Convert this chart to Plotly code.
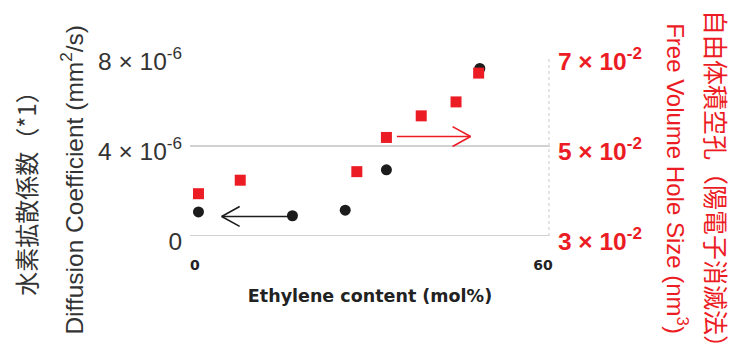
import plotly.graph_objects as go

# ---- data ----
eth_diff = [0.6, 16.8, 25.9, 33.0, 49.1]
diff_coef = [1.07e-6, 0.90e-6, 1.15e-6, 2.94e-6, 7.45e-6]
eth_hole = [0.6, 7.8, 27.9, 33.0, 39.0, 45.0, 48.9]
hole_size = [0.0394, 0.0424, 0.0443, 0.0519, 0.0567, 0.0598, 0.0662]

x_tickvals = [0, 60]
x_ticktext = ["0", "60"]
left_tickvals = [0, 4e-6, 8e-6]
left_ticktext = ["0", "4 × 10<sup>-6</sup>", "8 × 10<sup>-6</sup>"]
right_tickvals = [0.03, 0.05, 0.07]
right_ticktext = ["3 × 10<sup>-2</sup>", "5 × 10<sup>-2</sup>", "7 × 10<sup>-2</sup>"]
grid_vals = [0, 4e-6]

# arrows (annotation guides): [x_start, x_tip], y level
black_arrow_x = [16.2, 4.6]
black_arrow_y = 0.87e-6
red_arrow_x = [34.8, 47.5]
red_arrow_y = 0.0521

RED = "#ec1c24"
BLACK = "#1c1c1c"
FONT = "Liberation Sans, Arial, Noto Sans CJK JP, sans-serif"
CJK = "Noto Sans CJK JP, Liberation Sans, sans-serif"

fig = go.Figure()
fig.add_trace(go.Scatter(x=eth_hole, y=hole_size, mode="markers", yaxis="y2",
                         marker=dict(symbol="square", size=11, color=RED),
                         hoverinfo="skip"))
fig.add_trace(go.Scatter(x=eth_diff, y=diff_coef, mode="markers", yaxis="y",
                         marker=dict(symbol="circle", size=11, color=BLACK),
                         hoverinfo="skip"))

shapes = []
for g in grid_vals:
    shapes.append(dict(type="line", xref="paper", yref="y", x0=0, x1=1, y0=g, y1=g,
                       line=dict(color="#c2c2c2", width=1.5), layer="below"))
shapes.append(dict(type="line", xref="paper", yref="paper", x0=0.997, x1=0.997, y0=0, y1=1,
                   line=dict(color="#dcdcdc", width=1.5, dash="dot"), layer="below"))

# black arrow (pointing left)
hx, hy = 3.1, 0.44e-6
bx0, bx1 = black_arrow_x
shapes.append(dict(type="line", xref="x", yref="y", x0=bx0, x1=bx1, y0=black_arrow_y, y1=black_arrow_y,
                   line=dict(color=BLACK, width=1.6)))
for s in (1, -1):
    shapes.append(dict(type="line", xref="x", yref="y", x0=bx1, x1=bx1 + hx,
                       y0=black_arrow_y, y1=black_arrow_y + s * hy,
                       line=dict(color=BLACK, width=1.6)))
# red arrow (pointing right)
hy2 = 0.0022
rx0, rx1 = red_arrow_x
shapes.append(dict(type="line", xref="x", yref="y2", x0=rx0, x1=rx1, y0=red_arrow_y, y1=red_arrow_y,
                   line=dict(color=RED, width=1.6)))
for s in (1, -1):
    shapes.append(dict(type="line", xref="x", yref="y2", x0=rx1, x1=rx1 - hx,
                       y0=red_arrow_y, y1=red_arrow_y + s * hy2,
                       line=dict(color=RED, width=1.6)))

annotations = [
    dict(text="水素拡散係数（*1）", textangle=-90, xref="paper", yref="paper",
         x=-0.458, y=0.269, showarrow=False, xanchor="center", yanchor="middle",
         font=dict(family=CJK, size=24, color="#333333")),
    dict(text="Diffusion Coefficient (mm<sup>2</sup>/s)", textangle=-90, xref="paper", yref="paper",
         x=-0.328, y=0.313, showarrow=False, xanchor="center", yanchor="middle",
         font=dict(family=FONT, size=24.5, color="#333333")),
    dict(text="Free Volume Hole Size (nm<sup>3</sup>)", textangle=90, xref="paper", yref="paper",
         x=1.353, y=0.321, showarrow=False, xanchor="center", yanchor="middle",
         font=dict(family=FONT, size=24, color=RED)),
    dict(text="自由体積空孔（陽電子消滅法）", textangle=90, xref="paper", yref="paper",
         x=1.464, y=1.266, showarrow=False, xanchor="center", yanchor="top",
         font=dict(family=CJK, size=25, color=RED)),
]

fig.update_layout(
    width=734, height=344,
    margin=dict(l=190, r=184, t=56, b=108, pad=0),
    paper_bgcolor="white", plot_bgcolor="white",
    showlegend=False,
    shapes=shapes, annotations=annotations,
    xaxis=dict(range=[-0.86, 61.2], tickvals=x_tickvals, ticktext=x_ticktext,
               showgrid=False, zeroline=False, showline=False,
               ticks="outside", ticklen=16, tickcolor="rgba(0,0,0,0)",
               tickfont=dict(family="DejaVu Sans", size=14, color="#222222", weight="bold"),
               title=dict(text="Ethylene content (mol%)", standoff=17,
                          font=dict(family="DejaVu Sans", size=17.5, color="#222222", weight="bold"))),
    yaxis=dict(range=[0, 8e-6], tickvals=left_tickvals, ticktext=left_ticktext,
               showgrid=False, zeroline=False, showline=False,
               ticks="outside", ticklen=2, tickcolor="rgba(0,0,0,0)", ticklabelshift=5,
               tickfont=dict(family=FONT, size=24.5, color="#333333")),
    yaxis2=dict(range=[0.03, 0.07], tickvals=right_tickvals, ticktext=right_ticktext,
                overlaying="y", side="right",
                showgrid=False, zeroline=False, showline=False,
                ticks="outside", ticklen=2, tickcolor="rgba(0,0,0,0)", ticklabelshift=5,
                tickfont=dict(family=FONT, size=24.5, color=RED, weight="bold")),
)

fig.write_html("out.html", config={"displayModeBar": False},
               post_script="document.body.style.margin='0';document.body.style.overflow='hidden';")
